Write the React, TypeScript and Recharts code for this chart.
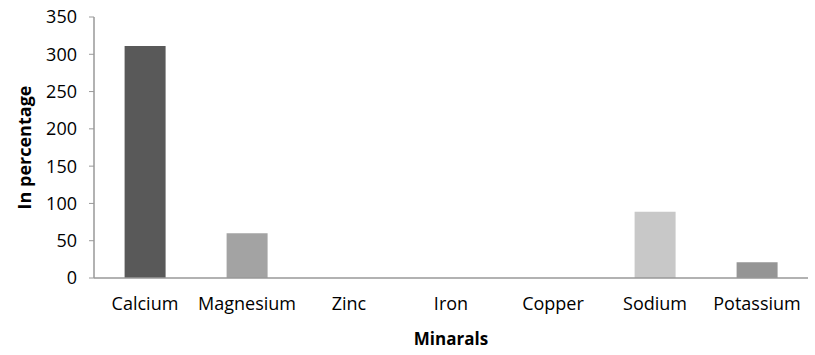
import React from 'react';
import { BarChart, Bar, XAxis, YAxis, Cell, Label } from 'recharts';

const minerals = ['Calcium', 'Magnesium', 'Zinc', 'Iron', 'Copper', 'Sodium', 'Potassium'];
const percentages = [311, 60, 0, 0, 0, 89, 21];
const barColors = ['#595959', '#a3a3a3', '#888888', '#888888', '#888888', '#c8c8c8', '#959595'];
const yTicks = [0, 50, 100, 150, 200, 250, 300, 350];

const data = minerals.map((m, i) => ({ name: m, value: percentages[i] }));

const font = 'Open Sans, sans-serif';

export default function App() {
  return (
    <div style={{ position: 'absolute', left: 0, top: 0, background: '#fff' }}>
      <BarChart
        width={815}
        height={355}
        data={data}
        margin={{ top: 17, right: 7, bottom: 0, left: 0 }}
        barCategoryGap="30%"
      >
        <XAxis
          dataKey="name"
          axisLine={{ stroke: '#999999', strokeWidth: 1.5 }}
          tickLine={false}
          tickSize={0}
          tickMargin={19}
          height={77}
          tick={{ fill: '#000', fontSize: 18, fontFamily: font }}
          interval={0}
        >
          <Label
            value="Minarals"
            position="insideBottom"
            offset={10}
            style={{ fontWeight: 'bold', fontSize: 17, fill: '#000', fontFamily: font }}
          />
        </XAxis>
        <YAxis
          width={94}
          domain={[0, 350]}
          ticks={yTicks}
          axisLine={{ stroke: '#999999', strokeWidth: 1.5 }}
          tickLine={{ stroke: '#999999' }}
          tickSize={5}
          tickMargin={12}
          tick={{ fill: '#000', fontSize: 18, fontFamily: font }}
        >
          <Label
            value="In percentage"
            angle={-90}
            position="insideLeft"
            offset={25}
            style={{ fontWeight: 'bold', fontSize: 18, fill: '#000', fontFamily: font, textAnchor: 'middle' }}
          />
        </YAxis>
        <Bar dataKey="value" isAnimationActive={false}>
          {data.map((d, i) => (
            <Cell key={d.name} fill={barColors[i]} />
          ))}
        </Bar>
      </BarChart>
    </div>
  );
}
